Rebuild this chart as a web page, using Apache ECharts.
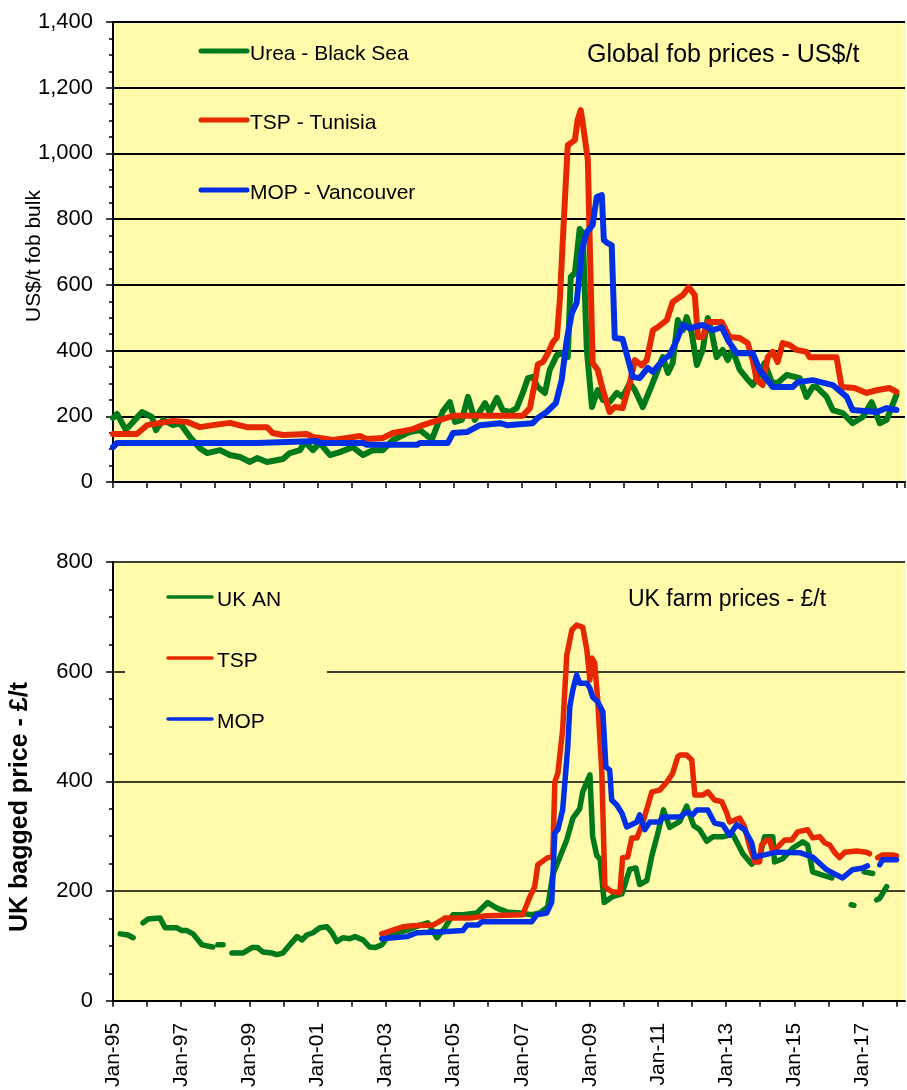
<!DOCTYPE html>
<html>
<head>
<meta charset="utf-8">
<title>Fertiliser prices</title>
<script src="https://cdn.jsdelivr.net/npm/echarts@6/dist/echarts.min.js"></script>
<style>
  html, body { margin: 0; padding: 0; background: #fff; }
  #chart { width: 907px; height: 1090px; }
</style>
</head>
<body>
<div id="chart"></div>
<script>
// x = decimal year, y = price. null = month with no quote (line breaks)
var fobNames = ['Urea - Black Sea', 'TSP - Tunisia', 'MOP - Vancouver'];
var ukNames = ['UK AN', 'TSP', 'MOP'];
var seriesColors = ['#007A1A', '#E62800', '#0030E6'];

var fobUrea = [[1995.0,195],[1995.12,207],[1995.38,158],[1995.85,213],[1996.14,198],[1996.26,158],[1996.47,189],[1996.76,173],[1996.97,179],[1997.26,137],[1997.55,103],[1997.76,88],[1998.14,97],[1998.43,82],[1998.73,76],[1999.02,61],[1999.23,73],[1999.52,61],[1999.99,70],[2000.19,88],[2000.49,97],[2000.63,122],[2000.87,97],[2001.07,119],[2001.37,82],[2001.66,91],[2002.04,106],[2002.34,82],[2002.63,97],[2002.92,97],[2003.22,128],[2003.71,152],[2004.01,158],[2004.36,130],[2004.68,215],[2004.89,243],[2005.04,183],[2005.24,189],[2005.42,259],[2005.62,189],[2005.92,240],[2006.06,213],[2006.27,256],[2006.44,219],[2006.65,213],[2006.85,225],[2007.03,271],[2007.18,316],[2007.32,320],[2007.47,289],[2007.68,271],[2007.82,341],[2008.03,386],[2008.20,392],[2008.35,380],[2008.44,624],[2008.56,636],[2008.70,770],[2008.79,758],[2008.91,402],[2009.06,228],[2009.23,280],[2009.38,250],[2009.58,244],[2009.79,271],[2009.96,259],[2010.17,301],[2010.32,280],[2010.55,228],[2010.76,280],[2010.96,332],[2011.14,380],[2011.29,332],[2011.43,362],[2011.58,493],[2011.73,462],[2011.84,502],[2011.99,453],[2012.14,356],[2012.31,402],[2012.46,499],[2012.58,453],[2012.72,380],[2012.90,402],[2013.05,371],[2013.19,402],[2013.40,341],[2013.60,316],[2013.78,295],[2013.93,320],[2014.13,362],[2014.34,304],[2014.51,301],[2014.78,326],[2015.01,320],[2015.16,316],[2015.36,259],[2015.54,289],[2015.66,289],[2015.95,259],[2016.13,219],[2016.42,210],[2016.71,179],[2017.01,198],[2017.27,243],[2017.51,179],[2017.71,189],[2018.0,265]];

var fobTsp = [[1995.0,146],[1995.70,146],[1996.0,173],[1996.76,186],[1997.17,183],[1997.55,167],[1997.93,173],[1998.43,180],[1998.93,167],[1999.52,167],[1999.69,149],[1999.99,143],[2000.69,146],[2000.87,137],[2001.46,128],[2001.87,134],[2002.25,140],[2002.45,131],[2002.92,134],[2003.22,149],[2003.51,155],[2003.80,161],[2004.10,173],[2004.39,183],[2004.60,189],[2004.89,198],[2005.0,202],[2007.03,202],[2007.24,225],[2007.38,301],[2007.47,358],[2007.62,365],[2007.76,390],[2007.91,425],[2008.03,440],[2008.12,558],[2008.20,727],[2008.35,1025],[2008.56,1041],[2008.64,1102],[2008.73,1132],[2008.79,1092],[2008.94,980],[2009.0,706],[2009.08,362],[2009.23,341],[2009.38,280],[2009.58,213],[2009.73,228],[2009.96,225],[2010.17,301],[2010.32,371],[2010.52,355],[2010.67,371],[2010.85,462],[2010.99,471],[2011.26,493],[2011.43,548],[2011.73,569],[2011.90,593],[2012.08,569],[2012.17,441],[2012.31,441],[2012.46,487],[2012.87,487],[2013.10,441],[2013.40,438],[2013.63,423],[2013.78,371],[2013.90,310],[2014.07,295],[2014.22,380],[2014.37,396],[2014.51,365],[2014.66,423],[2014.86,417],[2015.07,402],[2015.36,396],[2015.45,380],[2016.24,380],[2016.39,289],[2016.77,286],[2017.12,271],[2017.45,280],[2017.80,286],[2018.0,274]];

var fobMop = [[1995.0,106],[1995.12,119],[1999.23,119],[1999.25,125],[2000.99,125],[2001.07,119],[2002.34,119],[2002.45,113],[2003.92,113],[2004.01,119],[2004.83,119],[2004.98,149],[2005.39,152],[2005.77,173],[2006.36,179],[2006.56,173],[2007.32,179],[2007.47,195],[2007.73,213],[2008.0,240],[2008.17,310],[2008.32,432],[2008.47,514],[2008.61,545],[2008.76,706],[2008.91,761],[2009.08,782],[2009.20,867],[2009.35,873],[2009.41,736],[2009.52,727],[2009.64,721],[2009.73,438],[2009.96,435],[2010.26,320],[2010.46,316],[2010.70,347],[2010.85,335],[2011.14,371],[2011.34,386],[2011.55,432],[2011.73,478],[2011.93,468],[2012.31,478],[2012.61,462],[2012.87,471],[2013.05,432],[2013.31,392],[2013.78,392],[2013.98,341],[2014.37,289],[2014.95,289],[2015.10,304],[2015.54,310],[2016.13,295],[2016.54,259],[2016.71,219],[2017.42,213],[2017.71,225],[2018.0,219]];

var ukAn = [[1995.21,122],[1995.44,120],[1995.59,115],[1995.7,null],[1995.88,142],[1996.03,149],[1996.38,151],[1996.53,133],[1996.88,133],[1997.02,128],[1997.17,128],[1997.35,122],[1997.61,102],[1997.93,98],[1998.0,null],[1998.08,102],[1998.23,102],[1998.35,null],[1998.49,87],[1998.81,87],[1999.08,97],[1999.25,97],[1999.40,89],[1999.67,87],[1999.81,84],[1999.99,87],[2000.19,102],[2000.40,117],[2000.55,111],[2000.69,120],[2000.87,124],[2001.07,133],[2001.28,135],[2001.43,124],[2001.57,108],[2001.75,115],[2001.95,113],[2002.10,117],[2002.34,111],[2002.54,98],[2002.69,97],[2002.89,102],[2003.04,115],[2003.4,125],[2003.7,130],[2004.01,138],[2004.24,142],[2004.51,115],[2004.74,133],[2004.98,157],[2005.27,157],[2005.68,160],[2006.0,179],[2006.27,169],[2006.56,162],[2006.94,160],[2007.29,157],[2007.53,160],[2007.76,171],[2007.91,230],[2008.12,262],[2008.32,293],[2008.50,333],[2008.70,350],[2008.79,381],[2009.0,412],[2009.08,300],[2009.20,265],[2009.30,258],[2009.42,179],[2009.67,190],[2009.94,195],[2010.17,240],[2010.35,242],[2010.46,212],[2010.67,219],[2010.82,265],[2010.98,302],[2011.16,348],[2011.34,316],[2011.64,327],[2011.84,355],[2012.05,319],[2012.22,312],[2012.43,291],[2012.61,299],[2012.90,299],[2013.19,304],[2013.40,279],[2013.49,268],[2013.75,249],[2013.98,262],[2014.13,299],[2014.37,299],[2014.42,253],[2014.66,259],[2014.95,278],[2015.25,290],[2015.39,284],[2015.54,235],[2015.83,229],[2016.10,224],[2016.2,null],[2016.67,175],[2016.75,174],[2016.85,null],[2017.05,235],[2017.30,232],[2017.38,null],[2017.42,184],[2017.51,187],[2017.71,208]];

var ukTsp = [[2002.89,122],[2003.22,129],[2003.51,135],[2003.80,137],[2004.39,138],[2004.68,148],[2004.74,151],[2005.48,151],[2005.97,155],[2007.03,157],[2007.24,190],[2007.38,208],[2007.47,248],[2007.76,261],[2007.91,262],[2007.97,399],[2008.06,415],[2008.20,494],[2008.32,630],[2008.47,676],[2008.61,685],[2008.79,681],[2008.91,640],[2009.0,585],[2009.06,625],[2009.14,616],[2009.23,548],[2009.35,415],[2009.44,208],[2009.64,199],[2009.88,197],[2009.96,261],[2010.11,262],[2010.23,297],[2010.38,297],[2010.55,324],[2010.82,381],[2011.05,384],[2011.26,399],[2011.43,415],[2011.58,445],[2011.64,448],[2011.84,448],[2011.99,439],[2012.08,375],[2012.31,375],[2012.46,381],[2012.66,366],[2012.87,363],[2013.02,342],[2013.10,326],[2013.40,333],[2013.54,317],[2013.69,281],[2013.84,253],[2013.98,253],[2014.04,284],[2014.19,293],[2014.28,293],[2014.37,271],[2014.57,284],[2014.72,293],[2014.92,293],[2015.10,308],[2015.39,312],[2015.54,297],[2015.75,299],[2015.89,288],[2016.04,284],[2016.19,270],[2016.33,261],[2016.48,271],[2016.83,273],[2017.12,271],[2017.21,268],[2017.3,null],[2017.45,261],[2017.59,266],[2017.89,266],[2018.0,264]];

var ukMop = [[2002.89,113],[2003.22,115],[2003.63,117],[2003.92,124],[2004.68,126],[2005.27,128],[2005.39,138],[2005.71,138],[2005.83,144],[2007.29,144],[2007.44,157],[2007.73,160],[2007.88,180],[2007.97,306],[2008.06,312],[2008.20,348],[2008.35,463],[2008.41,536],[2008.50,567],[2008.61,594],[2008.70,579],[2008.91,579],[2009.0,570],[2009.08,554],[2009.23,545],[2009.38,527],[2009.47,426],[2009.58,421],[2009.64,366],[2009.79,357],[2009.94,342],[2010.08,317],[2010.38,326],[2010.46,339],[2010.61,312],[2010.76,326],[2011.05,326],[2011.14,335],[2011.64,335],[2011.84,344],[2012.02,339],[2012.14,348],[2012.46,348],[2012.66,324],[2012.90,321],[2013.10,302],[2013.31,321],[2013.54,312],[2013.75,288],[2013.84,262],[2014.48,271],[2015.16,270],[2015.54,262],[2015.95,239],[2016.13,233],[2016.42,224],[2016.71,239],[2017.01,242],[2017.15,246],[2017.3,null],[2017.51,248],[2017.59,257],[2018.0,257]];

var yearMin = 1995, yearMax = 2018.25;
var fobMax = 1400, ukMax = 800;

var FONT = '"Liberation Sans", Arial, sans-serif';
var plotYellow = '#FFFBAA';

function xAxisFor(gridIndex, labels) {
	return {
		type: 'value',
		gridIndex: gridIndex,
		min: yearMin,
		max: yearMax,
		interval: 1,
		axisLine: { lineStyle: { color: '#000', width: 2 } },
		axisTick: { show: true, length: 6, lineStyle: { color: '#000', width: 1.5 } },
		splitLine: { show: false },
		axisLabel: {
			show: labels,
			rotate: 90,
			margin: 22,
			fontSize: 21,
			fontFamily: FONT,
			color: '#000',
			showMaxLabel: false,
			formatter: function (v) {
				var y = Math.round(v);
				return (y - 1995) % 2 === 0 ? 'Jan-' + String(y).slice(2) : '';
			}
		}
	};
}

function yAxisFor(gridIndex, max, lineW) {
	return {
		type: 'value',
		gridIndex: gridIndex,
		min: 0,
		max: max,
		interval: 200,
		axisLine: { show: true, lineStyle: { color: '#000', width: 2 } },
		axisTick: { show: true, length: 7, lineStyle: { color: '#000', width: 1.5 } },
		minorTick: { show: true, splitNumber: 4, length: 4, lineStyle: { color: '#000', width: 1.5 } },
		splitLine: { show: true, lineStyle: { color: '#000', width: lineW } },
		axisLabel: {
			margin: 20,
			fontSize: 22,
			fontFamily: FONT,
			color: '#000',
			formatter: function (v) { return v.toLocaleString('en-US'); }
		}
	};
}

function lineSeries(name, data, idx, color, width) {
	return {
		name: name,
		type: 'line',
		xAxisIndex: idx,
		yAxisIndex: idx,
		data: data,
		showSymbol: false,
		connectNulls: false,
		z: 3,
		lineStyle: { color: color, width: width, cap: 'round', join: 'round' }
	};
}

function legendLine(x1, x2, y, color, w) {
	return { type: 'line', z: 10, shape: { x1: x1, y1: y, x2: x2, y2: y },
		style: { stroke: color, lineWidth: w, lineCap: 'round' } };
}
function plainText(txt, x, y, size, weight) {
	return { type: 'text', z: 10, x: x, y: y,
		style: { text: txt, fill: '#000', font: (weight || 'normal') + ' ' + size + 'px ' + FONT, verticalAlign: 'middle' } };
}

var option = {
	animation: false,
	backgroundColor: '#fff',
	grid: [
		{ left: 113, right: 2, top: 22, height: 460, show: true, backgroundColor: plotYellow, borderWidth: 0 },
		{ left: 113, right: 2, top: 562, height: 439, show: true, backgroundColor: plotYellow, borderWidth: 0 }
	],
	xAxis: [xAxisFor(0, false), xAxisFor(1, true)],
	yAxis: [yAxisFor(0, fobMax, 2), yAxisFor(1, ukMax, 1.6)],
	series: [
		lineSeries(fobNames[0], fobUrea, 0, seriesColors[0], 6),
		lineSeries(fobNames[1], fobTsp, 0, seriesColors[1], 6),
		lineSeries(fobNames[2], fobMop, 0, seriesColors[2], 6),
		lineSeries(ukNames[0], ukAn, 1, seriesColors[0], 5.5),
		lineSeries(ukNames[1], ukTsp, 1, seriesColors[1], 5.5),
		lineSeries(ukNames[2], ukMop, 1, seriesColors[2], 5.5)
	],
	graphic: [
		// legend box in lower chart hides the 600 gridline
		{ type: 'rect', z: 1, shape: { x: 125, y: 578, width: 202, height: 160 }, style: { fill: plotYellow } },

		legendLine(201, 247, 51, seriesColors[0], 5),
		legendLine(201, 247, 120, seriesColors[1], 5),
		legendLine(201, 247, 190, seriesColors[2], 5),
		plainText(fobNames[0], 250, 54, 21),
		plainText(fobNames[1], 250, 123, 21),
		plainText(fobNames[2], 250, 193, 21),
		plainText('Global fob prices - US$/t', 587, 55, 25),

		legendLine(168, 212, 597, seriesColors[0], 3.5),
		legendLine(168, 212, 658, seriesColors[1], 3.5),
		legendLine(168, 212, 719, seriesColors[2], 3.5),
		plainText(ukNames[0], 217, 600, 21),
		plainText(ukNames[1], 217, 661, 21),
		plainText(ukNames[2], 217, 722, 21),
		plainText('UK farm prices - \u00a3/t', 628, 600, 23),

		{ type: 'text', z: 10, x: 34, y: 256, rotation: Math.PI / 2,
			style: { text: 'US$/t fob bulk', fill: '#000', font: '21px ' + FONT, align: 'center', verticalAlign: 'middle' } },
		{ type: 'text', z: 10, x: 20, y: 807, rotation: Math.PI / 2,
			style: { text: 'UK bagged price - \u00a3/t', fill: '#000', font: 'bold 25px ' + FONT, align: 'center', verticalAlign: 'middle' } }
	]
};

var chart = echarts.init(document.getElementById('chart'));
chart.setOption(option);
</script>
</body>
</html>
